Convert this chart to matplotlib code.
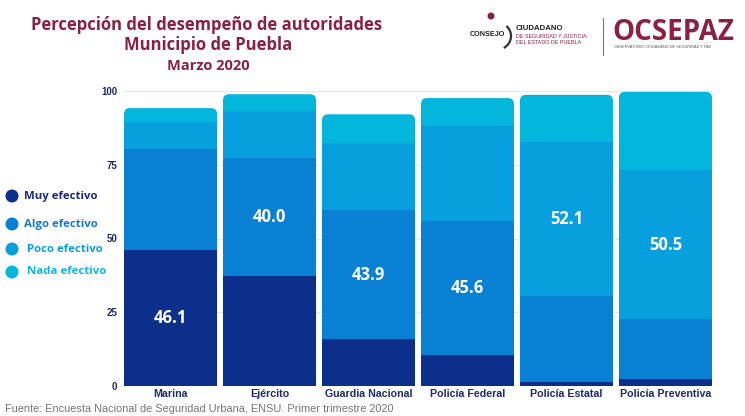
import numpy as np
import matplotlib
matplotlib.use("Agg")
import matplotlib.pyplot as plt
from matplotlib.patches import FancyBboxPatch, Ellipse, Arc

# Datos (porcentajes)
autoridades = ["Marina", "Ejército", "Guardia Nacional", "Policía Federal",
               "Policía Estatal", "Policía Preventiva"]
muy_efectivo = [46.1, 37.4, 15.8, 10.4, 1.5, 2.3]
algo_efectivo = [34.2, 40.0, 43.9, 45.6, 29.0, 20.3]
poco_efectivo = [9.3, 15.8, 22.6, 32.2, 52.1, 50.5]
nada_efectivo = [4.6, 5.7, 9.8, 9.4, 16.1, 26.6]
y_ticks = [0, 25, 50, 75, 100]

categorias = ["Muy efectivo", "Algo efectivo", "Poco efectivo", "Nada efectivo"]
colores = ["#0b2f8a", "#0880d4", "#089fdf", "#02b6dc"]
colores_texto = ["#1b2a7a", "#1678c8", "#0a9ee0", "#12b3dc"]
guinda = "#8a2046"
azul_txt = "#1f2a6e"

W, H = 745, 416
fig = plt.figure(figsize=(W / 100, H / 100), dpi=100)
fig.patch.set_facecolor("white")

ax = fig.add_axes([124 / W, 30 / H, 588 / W, 295 / H])
x = np.arange(len(autoridades))
ancho = 0.94

series = [muy_efectivo, algo_efectivo, poco_efectivo, nada_efectivo]
totales = np.sum(series, axis=0)

# escala de redondeo (px por unidad en x / y)
px_x = 588 / (len(autoridades) - 1 + ancho)
px_y = 295 / 100

ax.set_xlim(-ancho / 2, len(autoridades) - 1 + ancho / 2)
ax.set_ylim(0, 100)

for yt in y_ticks[1:]:
    ax.axhline(yt, color="#e2e4ee", lw=0.8, zorder=0)

# barra completa redondeada en color de "Nada efectivo"
for xi, tot in zip(x, totales):
    r = 6 / px_x
    box = FancyBboxPatch((xi - ancho / 2, 0), ancho, tot,
                         boxstyle=f"round,pad=0,rounding_size={r}",
                         mutation_aspect=px_x / px_y,
                         fc=colores[3], ec="none", zorder=2)
    ax.add_patch(box)

bottom = np.zeros(len(autoridades))
for serie, col in zip(series[:3], colores[:3]):
    ax.bar(x, serie, width=ancho, bottom=bottom, color=col, zorder=3, linewidth=0)
    bottom += np.array(serie)

# etiqueta del segmento mayor
acum = np.vstack([np.zeros(len(autoridades)), np.cumsum(series, axis=0)])
for i in range(len(autoridades)):
    vals = [s[i] for s in series]
    k = int(np.argmax(vals))
    yc = (acum[k, i] + acum[k + 1, i]) / 2
    ax.text(x[i], yc, f"{vals[k]:.1f}", ha="center", va="center", color="white",
            fontsize=12, fontweight="bold", family="Open Sans", zorder=5)

ax.set_yticks(y_ticks)
ax.set_yticklabels([str(t) for t in y_ticks], fontsize=7, fontweight="bold",
                   color=azul_txt, family="Liberation Sans")
ax.set_xticks(x)
ax.set_xticklabels(autoridades, fontsize=7.7, fontweight="bold", color=azul_txt,
                   family="Liberation Sans")
ax.tick_params(axis="both", length=0, pad=2)
ax.tick_params(axis="y", pad=5)
for s in ax.spines.values():
    s.set_visible(False)

# leyenda manual
ley_y = [196, 224, 249, 272]
ley_x = [24, 24, 27, 27]
for cat, col, tcol, yy, xx in zip(categorias, colores, colores_texto, ley_y, ley_x):
    fig.add_artist(Ellipse((12 / W, 1 - yy / H), 13 / W, 13 / H,
                           transform=fig.transFigure, fc=col, ec="none"))
    fig.text(xx / W, 1 - yy / H, cat, ha="left", va="center", color=tcol,
             fontsize=8.2, fontweight="bold", family="Open Sans")

# titulos
fuente_tit = "Open Sans"
fig.text(207 / W, 1 - 25 / H, "Percepción del desempeño de autoridades", ha="center",
         va="center", color=guinda, fontsize=12, fontweight="bold", family=fuente_tit)
fig.text(208 / W, 1 - 45 / H, "Municipio de Puebla", ha="center", va="center",
         color=guinda, fontsize=12, fontweight="bold", family=fuente_tit)
fig.text(208 / W, 1 - 66 / H, "Marzo 2020", ha="center", va="center",
         color=guinda, fontsize=10.5, fontweight="bold", family=fuente_tit)

# logos (texto)
fig.add_artist(Ellipse((491 / W, 1 - 16 / H), 7 / W, 7 / H,
                       transform=fig.transFigure, fc=guinda, ec="none"))
fig.add_artist(Arc((496 / W, 1 - 36 / H), 30 / W, 28 / H, theta1=-70, theta2=60,
                   transform=fig.transFigure, color="#333333", lw=1.6))
fig.text(470 / W, 1 - 34 / H, "CONSEJO", ha="left", va="center", color="#222222",
         fontsize=5.2, fontweight="bold", family="Liberation Sans")
fig.text(516 / W, 1 - 29 / H, "CIUDADANO", ha="left", va="center", color="#222222",
         fontsize=5.6, fontweight="bold", family="Liberation Sans")
fig.text(516 / W, 1 - 37 / H, "DE SEGURIDAD Y JUSTICIA", ha="left", va="center",
         color=guinda, fontsize=3.9, family="Liberation Sans")
fig.text(516 / W, 1 - 43 / H, "DEL ESTADO DE PUEBLA", ha="left", va="center",
         color=guinda, fontsize=3.9, family="Liberation Sans")
fig.add_artist(plt.Line2D([603 / W, 603 / W], [1 - 18 / H, 1 - 55 / H],
                          transform=fig.transFigure, color="#777777", lw=0.8))
fig.text(612 / W, 1 - 32 / H, "OCSEPAZ", ha="left", va="center", color=guinda,
         fontsize=20, fontweight="bold", family="Open Sans")
fig.text(614 / W, 1 - 47 / H, "OBSERVATORIO CIUDADANO DE SEGURIDAD Y PAZ", ha="left",
         va="center", color="#555555", fontsize=2.8, family="Liberation Sans")

# fuente
fig.text(5 / W, 1 - 409 / H,
         "Fuente: Encuesta Nacional de Seguridad Urbana, ENSU. Primer trimestre 2020",
         ha="left", va="center", color="#777777", fontsize=7.9, family="Liberation Sans")

fig.savefig("out.png", dpi=100)
